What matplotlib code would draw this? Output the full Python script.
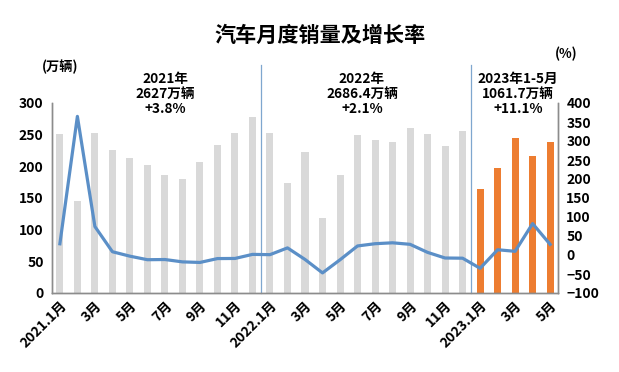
"""汽车月度销量及增长率 — 柱状图 + 增长率折线"""

import matplotlib
matplotlib.use("Agg")
import matplotlib.pyplot as plt

plt.rcParams["font.family"] = ["Noto Sans CJK SC", "DejaVu Sans"]
plt.rcParams["font.weight"] = "bold"

# ── 数据 ──
sales_2021 = [250.3, 145.5, 252.6, 225.2, 212.8, 201.5, 186.4, 179.9, 206.7, 233.2, 252.2, 278.6]
sales_2022 = [253.1, 173.7, 223.4, 118.1, 186.2, 250.2, 242.0, 238.3, 261.0, 250.4, 232.5, 255.6]
sales_2023 = [164.9, 197.6, 245.1, 215.9, 238.2]
growth = [29.5, 364.8, 74.9, 8.6, -3.1, -12.4, -11.9, -18.1, -19.6, -9.4, -9.1, 1.6,
          0.9, 18.7, -11.7, -47.1, -12.6, 23.8, 29.7, 32.1, 28.1, 6.9, -7.9, -8.4,
          -35.0, 13.8, 9.7, 82.7, 27.9]
tick_labels = ["2021.1月", "3月", "5月", "7月", "9月", "11月",
               "2022.1月", "3月", "5月", "7月", "9月", "11月",
               "2023.1月", "3月", "5月"]
notes = [("2021年\n2627万辆\n+3.8%", 165),
         ("2022年\n2686.4万辆\n+2.1%", 362),
         ("2023年1-5月\n1061.7万辆\n+11.1%", 518)]

sales = sales_2021 + sales_2022 + sales_2023
n_old = len(sales_2021) + len(sales_2022)
x = list(range(len(sales)))
colors = ["#D9D9D9"] * n_old + ["#ED7D31"] * len(sales_2023)

W, H = 619, 372
fig = plt.figure(figsize=(W / 100, H / 100), dpi=100)
ax = fig.add_axes([52 / W, 1 - 293 / H, (558 - 52) / W, (293 - 103) / H])
ax2 = ax.twinx()

ax.bar(x, sales, width=0.4, color=colors, zorder=2)
ax.set_ylim(0, 300)
ax.set_yticks(range(0, 301, 50))
ax.set_xlim(-0.45, len(sales) - 0.55)
ax.set_xticks(x[::2])
ax.set_xticklabels(tick_labels, rotation=45, ha="right", rotation_mode="anchor",
                   fontsize=8.5, fontweight="bold")

ax2.plot(x, growth, color="#5B8FC7", linewidth=2.3, zorder=3)
ax2.set_ylim(-100, 400)
ax2.set_yticks(range(-100, 401, 50))

for a in (ax, ax2):
    a.tick_params(length=0, labelsize=10)
    for lab in a.get_yticklabels():
        lab.set_fontweight("bold")
    a.spines["top"].set_visible(False)
    for s in ("left", "bottom", "right"):
        a.spines[s].set_color("#8C8C8C")
        a.spines[s].set_linewidth(1.0)
ax.tick_params(axis="x", pad=4)
ax.tick_params(axis="y", pad=6)
ax2.tick_params(axis="y", pad=6)

# 年份分隔线
for xs in (len(sales_2021) - 0.5, n_old - 0.5):
    ax.plot([xs, xs], [0, 360], color="#7FA7CF", linewidth=0.9, clip_on=False, zorder=1)

fig.text(320 / W, 1 - 35 / H, "汽车月度销量及增长率", ha="center", va="center",
         fontsize=15.2, fontweight="bold")
fig.text(60 / W, 1 - 67 / H, "(万辆)", ha="center", va="center", fontsize=9.5, fontweight="bold")
fig.text(566 / W, 1 - 54 / H, "(%)", ha="center", va="center", fontsize=9.5, fontweight="bold")
for txt, px in notes:
    fig.text(px / W, 1 - 94 / H, txt, ha="center", va="center", fontsize=9.8,
             fontweight="bold", linespacing=1.05)

fig.savefig("out.png", dpi=100)
